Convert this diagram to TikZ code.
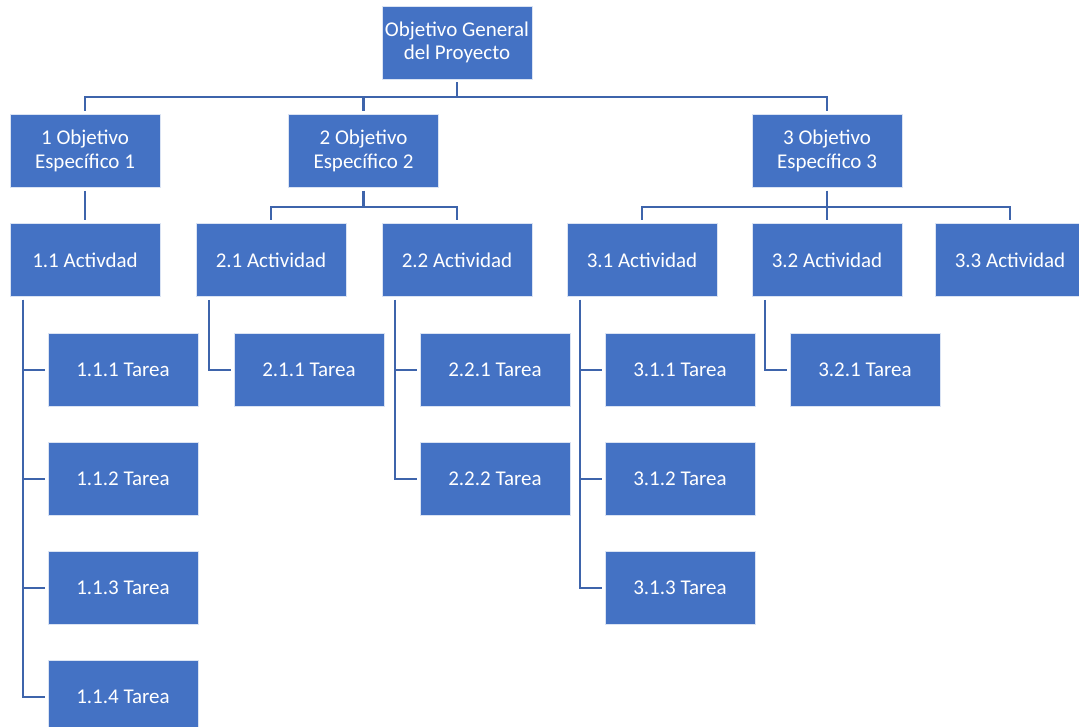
\documentclass[tikz,border=0pt]{standalone}
\usepackage{fontspec}
\setmainfont{Carlito}
\usepackage{xcolor}
\usetikzlibrary{calc}

\definecolor{boxblue}{HTML}{4472C4}
\definecolor{lineblue}{HTML}{3E64AB}

\begin{document}
\begin{tikzpicture}[x=1pt, y=1pt,
  box/.style={rectangle, fill=boxblue, draw=white!80!boxblue, line width=0.8pt,
    minimum width=150pt, minimum height=73pt, inner sep=0pt, text=white,
    align=center, font=\fontsize{21}{23.5}\selectfont},
  conn/.style={draw=lineblue, line width=2.2pt, shorten <=3pt, shorten >=3pt}]
  \useasboundingbox (0,0) rectangle (1079,-727);
  \clip (0,0) rectangle (1079,-727);
  % Nodes
  \node[box] (gen) at (457, -42.5) {Objetivo General\\del Proyecto};

  \node[box] (obj1) at (85, -151) {1 Objetivo\\Específico 1};
  \node[box] (obj2) at (363.5, -151) {2 Objetivo\\Específico 2};
  \node[box] (obj3) at (827, -151) {3 Objetivo\\Específico 3};

  \node[box] (act11) at (85, -260) {1.1 Activdad};
  \node[box] (act21) at (271, -260) {2.1 Actividad};
  \node[box] (act22) at (457, -260) {2.2 Actividad};
  \node[box] (act31) at (642, -260) {3.1 Actividad};
  \node[box] (act32) at (827, -260) {3.2 Actividad};
  \node[box] (act33) at (1010, -260) {3.3 Actividad};

  \node[box] (t111) at (123, -370) {1.1.1 Tarea};
  \node[box] (t112) at (123, -479) {1.1.2 Tarea};
  \node[box] (t113) at (123, -588) {1.1.3 Tarea};
  \node[box] (t114) at (123, -697) {1.1.4 Tarea};
  \node[box] (t211) at (309, -370) {2.1.1 Tarea};
  \node[box] (t221) at (495, -370) {2.2.1 Tarea};
  \node[box] (t222) at (495, -479) {2.2.2 Tarea};
  \node[box] (t311) at (680, -370) {3.1.1 Tarea};
  \node[box] (t312) at (680, -479) {3.1.2 Tarea};
  \node[box] (t313) at (680, -588) {3.1.3 Tarea};
  \node[box] (t321) at (865, -370) {3.2.1 Tarea};

  % Edges
  \draw[conn] (gen.south) -- ++(0,-18) -| (obj1.north);
  \draw[conn] (gen.south) -- ++(0,-18) -| (obj2.north);
  \draw[conn] (gen.south) -- ++(0,-18) -| (obj3.north);

  \draw[conn] (obj1.south) -- (act11.north);
  \draw[conn] (obj2.south) -- ++(0,-19) -| (act21.north);
  \draw[conn] (obj2.south) -- ++(0,-19) -| (act22.north);
  \draw[conn] (obj3.south) -- ++(0,-19) -| (act31.north);
  \draw[conn] (obj3.south) -- ++(0,-19) -| (act32.north);
  \draw[conn] (obj3.south) -- ++(0,-19) -| (act33.north);

  \draw[conn] ([xshift=13.5pt]act11.south west) |- (t111.west);
  \draw[conn] ([xshift=13.5pt]act11.south west) |- (t112.west);
  \draw[conn] ([xshift=13.5pt]act11.south west) |- (t113.west);
  \draw[conn] ([xshift=13.5pt]act11.south west) |- (t114.west);
  \draw[conn] ([xshift=13.5pt]act21.south west) |- (t211.west);
  \draw[conn] ([xshift=13.5pt]act22.south west) |- (t221.west);
  \draw[conn] ([xshift=13.5pt]act22.south west) |- (t222.west);
  \draw[conn] ([xshift=13.5pt]act31.south west) |- (t311.west);
  \draw[conn] ([xshift=13.5pt]act31.south west) |- (t312.west);
  \draw[conn] ([xshift=13.5pt]act31.south west) |- (t313.west);
  \draw[conn] ([xshift=13.5pt]act32.south west) |- (t321.west);
\end{tikzpicture}
\end{document}
